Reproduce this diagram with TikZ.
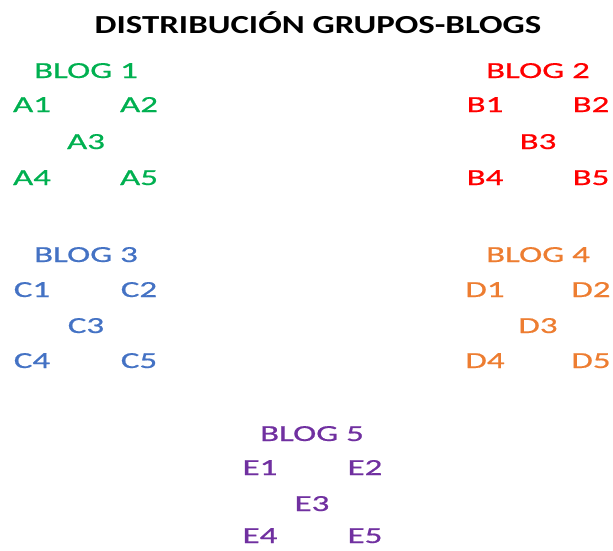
\documentclass[tikz,border=0pt]{standalone}
\usepackage{fontspec}
\setmainfont{Carlito}
\newfontfamily\lblfont{Carlito}[FakeStretch=1.52, RawFeature={embolden=0.7}]
\newfontfamily\ttlfont{Carlito Bold}[FakeStretch=1.34]
\definecolor{cgreen}{HTML}{00B050}
\definecolor{cred}{HTML}{FF0000}
\definecolor{cblue}{HTML}{4472C4}
\definecolor{corange}{HTML}{ED7D31}
\definecolor{cpurple}{HTML}{7030A0}
\tikzset{
  lbl/.style={anchor=base, inner sep=0pt, font=\lblfont\fontsize{23}{23}\selectfont},
  ttl/.style={anchor=base, inner sep=0pt, font=\ttlfont\fontsize{26}{26}\selectfont},
}
\begin{document}
\begin{tikzpicture}[x=1pt,y=-1pt]
\useasboundingbox (0,0) rectangle (613,550);
\node[ttl] (title) at (318,33) {DISTRIBUCIÓN GRUPOS-BLOGS};
% Blog 1
\node[lbl,cgreen] (b1) at (86,78) {BLOG 1};
\node[lbl,cgreen] (a1) at (32,112) {A1};
\node[lbl,cgreen] (a2) at (139,112) {A2};
\node[lbl,cgreen] (a3) at (86,149) {A3};
\node[lbl,cgreen] (a4) at (32,185) {A4};
\node[lbl,cgreen] (a5) at (139,185) {A5};
% Blog 2
\node[lbl,cred] (b2) at (538,78) {BLOG 2};
\node[lbl,cred] (bb1) at (485,112) {B1};
\node[lbl,cred] (bb2) at (591,112) {B2};
\node[lbl,cred] (bb3) at (538,149) {B3};
\node[lbl,cred] (bb4) at (485,185) {B4};
\node[lbl,cred] (bb5) at (591,185) {B5};
% Blog 3
\node[lbl,cblue] (b3) at (86,262) {BLOG 3};
\node[lbl,cblue] (c1) at (32,297) {C1};
\node[lbl,cblue] (c2) at (139,297) {C2};
\node[lbl,cblue] (c3) at (86,333) {C3};
\node[lbl,cblue] (c4) at (32,368) {C4};
\node[lbl,cblue] (c5) at (139,368) {C5};
% Blog 4
\node[lbl,corange] (b4) at (538,262) {BLOG 4};
\node[lbl,corange] (d1) at (485,297) {D1};
\node[lbl,corange] (d2) at (591,297) {D2};
\node[lbl,corange] (d3) at (538,333) {D3};
\node[lbl,corange] (d4) at (485,368) {D4};
\node[lbl,corange] (d5) at (591,368) {D5};
% Blog 5
\node[lbl,cpurple] (b5) at (312,441) {BLOG 5};
\node[lbl,cpurple] (e1) at (260,475) {E1};
\node[lbl,cpurple] (e2) at (365,475) {E2};
\node[lbl,cpurple] (e3) at (312,511) {E3};
\node[lbl,cpurple] (e4) at (260,543) {E4};
\node[lbl,cpurple] (e5) at (365,543) {E5};
\end{tikzpicture}
\end{document}
